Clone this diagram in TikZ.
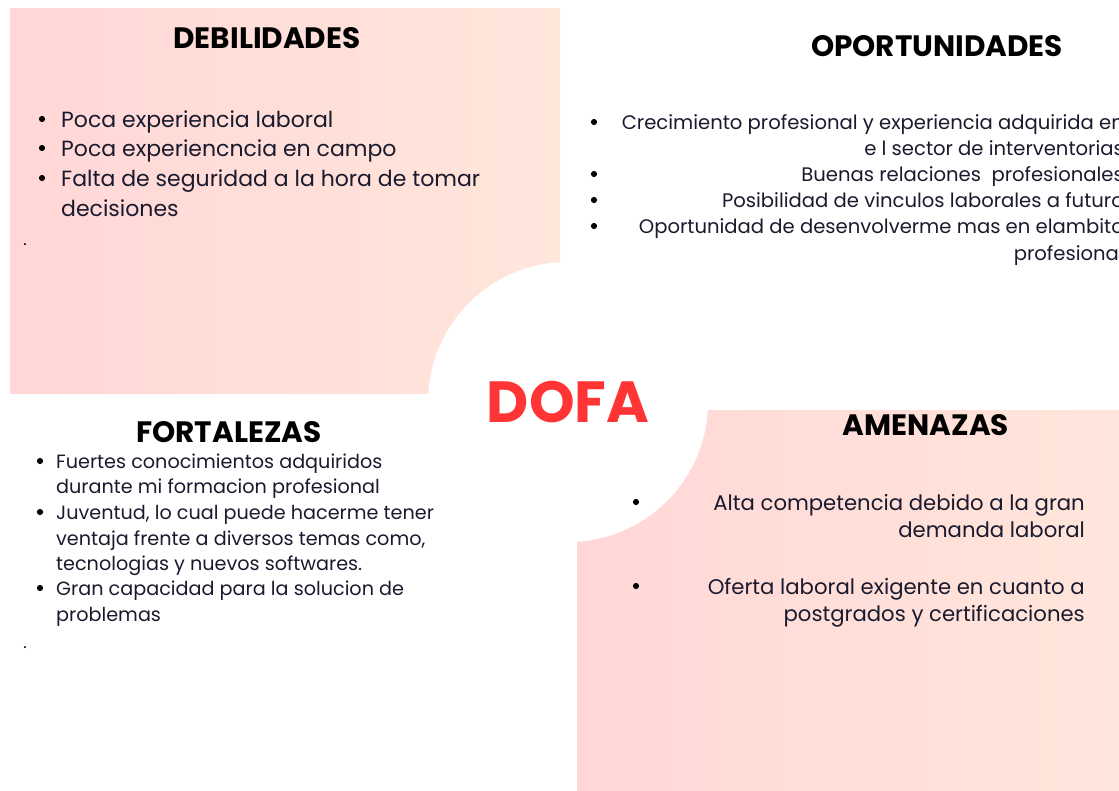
\documentclass[tikz,border=0pt]{standalone}
\usepackage{fontspec}
\setmainfont{Poppins}
\usepackage{xcolor}
\usepackage{tikz}
\definecolor{rosaIzq}{HTML}{FFD7D7}
\definecolor{rosaDer}{HTML}{FFE6DB}
\definecolor{rojoDofa}{HTML}{FF3434}
\definecolor{textoAzul}{HTML}{1A1A2E}

\begin{document}
\begin{tikzpicture}[x=1pt,y=-1pt,line cap=round,line join=round,
	titulo/.style={font=\fontsize{29.5}{34}\selectfont\bfseries,anchor=base,inner sep=0pt},
	itemI/.style={anchor=base west,inner sep=0pt,text=textoAzul},
	itemD/.style={anchor=base east,inner sep=0pt,text=textoAzul},
	vineta/.style={circle,fill=black,inner sep=0pt,minimum size=6.2pt}]
		\useasboundingbox (0,0) rectangle (1119,790);
		\clip (0,0) rectangle (1119,790);
		% fondos
		\shade [left color=rosaIzq,right color=rosaDer] (10,8) rectangle (560,393);
		\shade [left color=rosaIzq,right color=rosaDer] (577,410) rectangle (1130,800);
		\fill [white] (568,402) circle (140);
		% titulos
		\node[titulo] (debTit) at (267,48) {DEBILIDADES};
		\node[titulo] (oprTit) at (937,56) {OPORTUNIDADES};
		\node[titulo] (forTit) at (229,442) {FORTALEZAS};
		\node[titulo] (ameTit) at (926,435) {AMENAZAS};
		\node[anchor=base,inner sep=0pt,text=rojoDofa,font=\fontsize{58}{60}\selectfont\bfseries] (dofa) at (568,422) {DOFA};
		% debilidades
		\begin{scope}[font=\fontsize{22}{26}\selectfont]
			\node[vineta] (debV1) at (42,119) {};
			\node[vineta] (debV2) at (42,148) {};
			\node[vineta] (debV3) at (42,178) {};
			\node[itemI] (deb1) at (61,127) {Poca experiencia laboral};
			\node[itemI] (deb2) at (61,156) {Poca experiencncia en campo};
			\node[itemI] (deb3) at (61,186) {Falta de seguridad a la hora de tomar};
			\node[itemI] (deb4) at (61,216) {decisiones};
		\end{scope}
		\node[anchor=base,inner sep=0pt,font=\fontsize{16}{18}\selectfont] (debPunto) at (25,245) {.};
		% oportunidades
		\begin{scope}[font=\fontsize{19.6}{23}\selectfont]
			\node[vineta] (oprV1) at (594,122) {};
			\node[vineta] (oprV2) at (594,174) {};
			\node[vineta] (oprV3) at (594,200) {};
			\node[vineta] (oprV4) at (594,226) {};
			\node[itemD] (opr1) at (1124,129) {Crecimiento profesional y experiencia adquirida en};
			\node[itemD] (opr2) at (1124,155) {e l sector de interventorias};
			\node[itemD] (opr3) at (1124,181) {Buenas relaciones\ \ profesionales};
			\node[itemD] (opr4) at (1124,207) {Posibilidad de vinculos laborales a futuro};
			\node[itemD] (opr5) at (1124,233) {Oportunidad de desenvolverme mas en elambito};
			\node[itemD] (opr6) at (1124,260) {profesional};
		\end{scope}
		% fortalezas
		\begin{scope}[font=\fontsize{19.2}{23}\selectfont]
			\node[vineta] (forV1) at (40,461) {};
			\node[vineta] (forV2) at (40,512) {};
			\node[vineta] (forV3) at (40,588) {};
			\node[itemI] (for1) at (56,468) {Fuertes conocimientos adquiridos};
			\node[itemI] (for2) at (56,493) {durante mi formacion profesional};
			\node[itemI] (for3) at (56,519) {Juventud, lo cual puede hacerme tener};
			\node[itemI] (for4) at (56,545) {ventaja frente a diversos temas como,};
			\node[itemI] (for5) at (56,570) {tecnologias y nuevos softwares.};
			\node[itemI] (for6) at (56,595) {Gran capacidad para la solucion de};
			\node[itemI] (for7) at (56,621) {problemas};
		\end{scope}
		\node[anchor=base,inner sep=0pt,font=\fontsize{16}{18}\selectfont] (forPunto) at (25,648) {.};
		% amenazas
		\begin{scope}[font=\fontsize{21.2}{25}\selectfont]
			\node[vineta] (ameV1) at (636,502) {};
			\node[vineta] (ameV2) at (636,586) {};
			\node[itemD] (ame1) at (1085,510) {Alta competencia debido a la gran};
			\node[itemD] (ame2) at (1085,537) {demanda laboral};
			\node[itemD] (ame3) at (1085,594) {Oferta laboral exigente en cuanto a};
			\node[itemD] (ame4) at (1085,621) {postgrados y certificaciones};
		\end{scope}
	\end{tikzpicture}
\end{document}
